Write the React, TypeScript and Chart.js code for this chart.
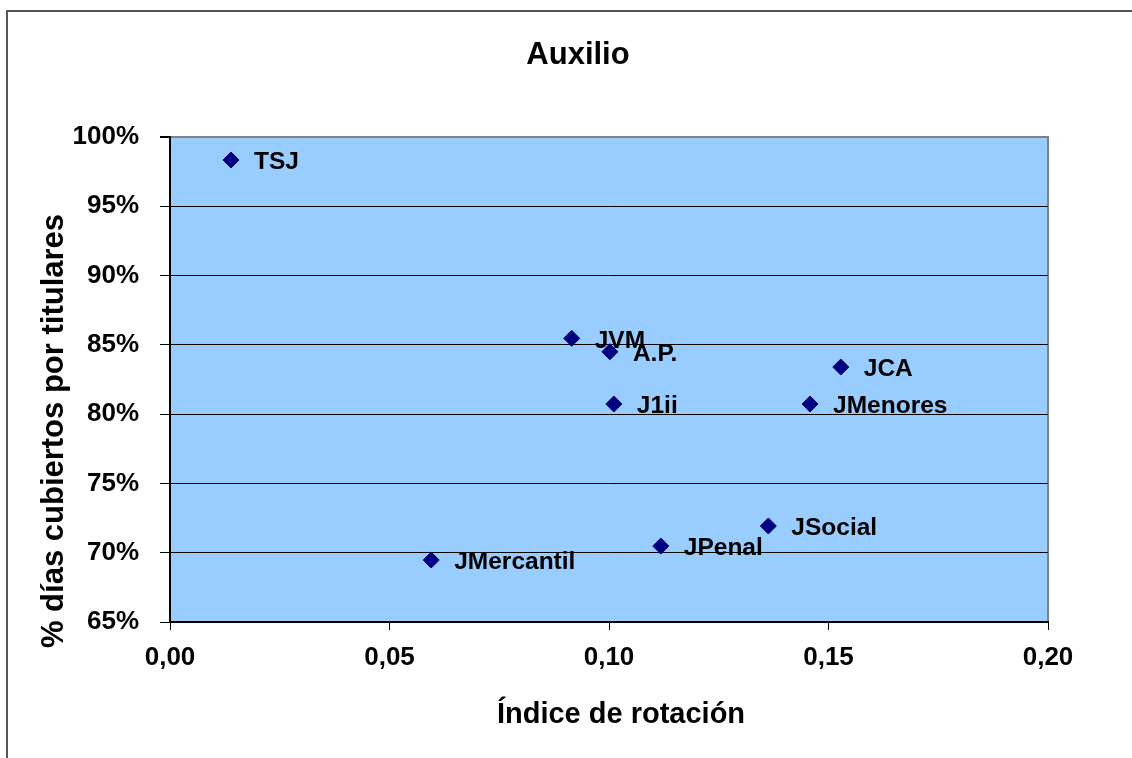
import React, { useEffect, useRef } from "react";
import { Chart, registerables } from "chart.js";

Chart.register(...registerables);

const TITLE = "Auxilio";
const X_TITLE = "Índice de rotación";
const Y_TITLE = "% días cubiertos por titulares";
const POINT_LABELS = ["TSJ", "JVM", "A.P.", "J1ii", "JCA", "JMenores", "JSocial", "JPenal", "JMercantil"];
const X_VALUES = [0.0139, 0.0915, 0.1002, 0.1011, 0.1528, 0.1458, 0.1363, 0.1118, 0.0595];
const Y_VALUES = [98.34, 85.47, 84.5, 80.73, 83.4, 80.73, 71.93, 70.48, 69.47];
const X_MIN = 0;
const X_MAX = 0.2;
const X_STEP = 0.05;
const Y_MIN = 65;
const Y_MAX = 100;
const Y_STEP = 5;

const FONT = "'Liberation Sans', Arial, sans-serif";

export default function App() {
  const ref = useRef<HTMLCanvasElement | null>(null);

  useEffect(() => {
    if (!ref.current) return;
    const decor = {
      id: "decor",
      beforeDraw(chart: any) {
        const { ctx, chartArea: a } = chart;
        ctx.save();
        ctx.fillStyle = "#ffffff";
        ctx.fillRect(0, 0, chart.width, chart.height);
        ctx.strokeStyle = "#555555";
        ctx.lineWidth = 2;
        ctx.strokeRect(7, 11, 1300, 1300);
        ctx.fillStyle = "#99CCFF";
        ctx.fillRect(a.left, a.top, a.right - a.left, a.bottom - a.top);
        ctx.strokeStyle = "#808080";
        ctx.lineWidth = 2;
        ctx.beginPath();
        ctx.moveTo(a.left, a.top);
        ctx.lineTo(a.right, a.top);
        ctx.lineTo(a.right, a.bottom);
        ctx.stroke();
        ctx.restore();
      },
      afterDraw(chart: any) {
        const { ctx } = chart;
        ctx.save();
        ctx.fillStyle = "#000000";
        ctx.textAlign = "center";
        ctx.textBaseline = "middle";
        ctx.font = `bold 31px ${FONT}`;
        ctx.fillText(TITLE, 578, 55);
        ctx.font = `bold 29px ${FONT}`;
        ctx.fillText(X_TITLE, 621, 715);
        ctx.font = `bold 31px ${FONT}`;
        ctx.translate(54, 431);
        ctx.rotate(-Math.PI / 2);
        ctx.fillText(Y_TITLE, 0, 0);
        ctx.restore();

        const meta = chart.getDatasetMeta(0);
        ctx.save();
        ctx.fillStyle = "#000000";
        ctx.font = `bold 24.5px ${FONT}`;
        ctx.textAlign = "left";
        ctx.textBaseline = "middle";
        meta.data.forEach((pt: any, i: number) => {
          ctx.fillText(POINT_LABELS[i], pt.x + 23, pt.y + 2.5);
        });
        ctx.restore();
      },
    };

    const chart = new Chart(ref.current, {
      type: "scatter",
      data: {
        datasets: [
          {
            data: X_VALUES.map((x, i) => ({ x, y: Y_VALUES[i] })),
            pointStyle: "rectRot",
            pointRadius: 8,
            pointHoverRadius: 8,
            backgroundColor: "#000080",
            borderColor: "#000080",
            borderWidth: 1,
          },
        ],
      },
      options: {
        animation: false,
        responsive: false,
        devicePixelRatio: 1,
        layout: { padding: { left: 0, top: 137, right: 84, bottom: 0 } },
        plugins: {
          legend: { display: false },
          title: { display: false },
          tooltip: { enabled: false },
        },
        scales: {
          x: {
            type: "linear",
            min: X_MIN,
            max: X_MAX,
            afterFit: (s: any) => {
              s.height = 136;
            },
            ticks: {
              stepSize: X_STEP,
              color: "#000000",
              padding: 12,
              font: { family: FONT, size: 26, weight: "bold" },
              callback: (v: any) => Number(v).toFixed(2).replace(".", ","),
            },
            grid: { drawOnChartArea: false, drawTicks: true, tickLength: 8, tickColor: "#000000" },
            border: { color: "#000000", width: 2 },
          },
          y: {
            type: "linear",
            min: Y_MIN,
            max: Y_MAX,
            afterFit: (s: any) => {
              s.width = 170;
            },
            ticks: {
              stepSize: Y_STEP,
              color: "#000000",
              padding: 21,
              font: { family: FONT, size: 26, weight: "bold" },
              callback: (v: any) => v + "%",
            },
            grid: {
              color: (c: any) => (c.tick && c.tick.value === Y_MAX ? "#808080" : "#000000"),
              lineWidth: (c: any) => (c.tick && c.tick.value === Y_MAX ? 2 : 1),
              tickLength: 10,
              tickColor: "#000000",
            },
            border: { color: "#000000", width: 2 },
          },
        },
      },
      plugins: [decor],
    });
    return () => chart.destroy();
  }, []);

  return (
    <div style={{ position: "absolute", left: 0, top: 0, width: 1132, height: 758 }}>
      <canvas ref={ref} width={1132} height={758} style={{ width: 1132, height: 758 }} />
    </div>
  );
}
